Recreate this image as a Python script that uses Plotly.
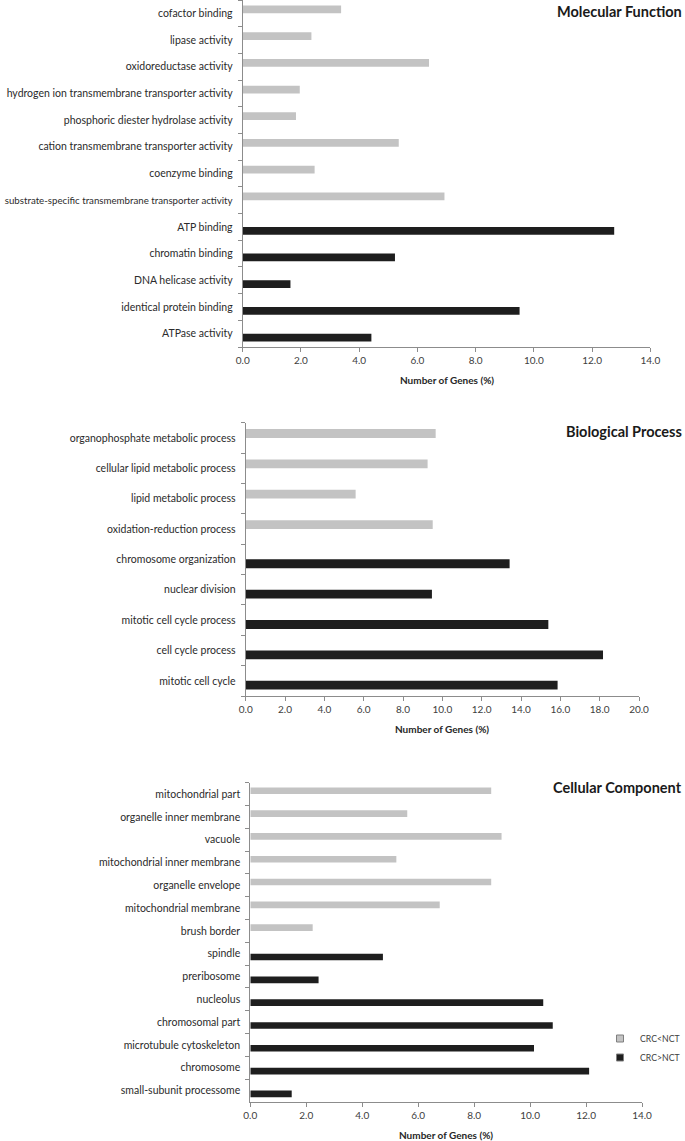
import plotly.graph_objects as go

# ---------------- data ----------------
mf_down_terms = ["cofactor binding", "lipase activity", "oxidoreductase activity",
                 "hydrogen ion transmembrane transporter activity",
                 "phosphoric diester hydrolase activity",
                 "cation transmembrane transporter activity", "coenzyme binding",
                 "substrate-specific transmembrane transporter activity"]
mf_down_vals = [3.38, 2.36, 6.40, 1.96, 1.83, 5.36, 2.47, 6.93]
mf_up_terms = ["ATP binding", "chromatin binding", "DNA helicase activity",
               "identical protein binding", "ATPase activity"]
mf_up_vals = [12.76, 5.23, 1.64, 9.51, 4.42]

bp_down_terms = ["organophosphate metabolic process", "cellular lipid metabolic process",
                 "lipid metabolic process", "oxidation-reduction process"]
bp_down_vals = [9.66, 9.25, 5.59, 9.51]
bp_up_terms = ["chromosome organization", "nuclear division", "mitotic cell cycle process",
               "cell cycle process", "mitotic cell cycle"]
bp_up_vals = [13.42, 9.47, 15.39, 18.17, 15.86]

cc_down_terms = ["mitochondrial part", "organelle inner membrane", "vacuole",
                 "mitochondrial inner membrane", "organelle envelope",
                 "mitochondrial membrane", "brush border"]
cc_down_vals = [8.61, 5.61, 8.98, 5.22, 8.61, 6.77, 2.23]
cc_up_terms = ["spindle", "preribosome", "nucleolus", "chromosomal part",
               "microtubule cytoskeleton", "chromosome", "small-subunit processome"]
cc_up_vals = [4.74, 2.44, 10.47, 10.81, 10.14, 12.11, 1.48]

panel_titles = ["Molecular Function", "Biological Process", "Cellular Component"]
x_maxes = [14, 20, 14]
series_names = ["CRC<NCT", "CRC>NCT"]
axis_title = "Number of Genes (%)"

# ---------------- style ----------------
W, H = 685, 1141
FONT = "Lato"
GRAY = "#c3c3c3"
BLACK = "#1e1e1e"
AXIS = "#8c8c8c"

# pixel boxes of the plot areas: (left, right, top, bottom)
boxes = [(242.7, 650.3, 0.0, 347.0),
         (245.7, 639.0, 422.7, 696.0),
         (250.3, 642.0, 782.7, 1102.0)]
title_y = [11, 432, 787]

panels = [(mf_down_terms, mf_down_vals, mf_up_terms, mf_up_vals),
          (bp_down_terms, bp_down_vals, bp_up_terms, bp_up_vals),
          (cc_down_terms, cc_down_vals, cc_up_terms, cc_up_vals)]


def fit_label(s):
    # the very long label is set a touch smaller so it stays inside the page
    if len(s) > 50:
        return f'<span style="font-size:9.7px">{s}</span>'
    return s


fig = go.Figure()
layout = {}
annotations = []

for i, ((dt, dv, ut, uv), (l, r, t, b), xmax, title, ty) in enumerate(
        zip(panels, boxes, x_maxes, panel_titles, title_y)):
    n = i + 1
    xa = "x" if n == 1 else f"x{n}"
    ya = "y" if n == 1 else f"y{n}"
    fig.add_trace(go.Bar(y=dt, x=dv, orientation="h", xaxis=xa, yaxis=ya,
                         offsetgroup="down", alignmentgroup=f"p{n}",
                         marker=dict(color=GRAY, line=dict(width=0)),
                         name=series_names[0], showlegend=False))
    fig.add_trace(go.Bar(y=ut, x=uv, orientation="h", xaxis=xa, yaxis=ya,
                         offsetgroup="up", alignmentgroup=f"p{n}",
                         marker=dict(color=BLACK, line=dict(width=0)),
                         name=series_names[1], showlegend=False))
    cats = dt + ut
    xkey = "xaxis" if n == 1 else f"xaxis{n}"
    ykey = "yaxis" if n == 1 else f"yaxis{n}"
    layout[xkey] = dict(domain=[l / W, r / W], anchor=ya, range=[0, xmax],
                        automargin=False,
                        dtick=2, tick0=0, tickformat=".1f", showgrid=False,
                        zeroline=False, showline=True, linecolor=AXIS, linewidth=1,
                        ticks="outside", ticklen=4, tickcolor=AXIS, tickwidth=1,
                        tickfont=dict(family=FONT, size=10, color="#404040"),
                        fixedrange=True)
    layout[ykey] = dict(domain=[1 - b / H, 1 - t / H], anchor=xa,
                        automargin=False,
                        categoryorder="array", categoryarray=cats,
                        tickmode="array", tickvals=cats,
                        ticktext=[fit_label(c) for c in cats],
                        autorange="reversed", showgrid=False, zeroline=False,
                        showline=True, linecolor=AXIS, linewidth=1,
                        ticks="outside", ticklen=4, tickcolor=AXIS, tickwidth=1,
                        tickson="boundaries", ticklabelstandoff=7,
                        tickfont=dict(family=FONT, size=10.5, color="#2b2b2b"),
                        fixedrange=True)
    # panel title (top right)
    annotations.append(dict(text=f"<b>{title}</b>", xref="paper", yref="paper",
                            x=684 / W, y=1 - ty / H,
                            xanchor="right", yanchor="middle", showarrow=False,
                            font=dict(family=FONT, size=14.5, color="#1a1a1a")))
    # x axis title
    annotations.append(dict(text=f"<b>{axis_title}</b>", xref="paper", yref="paper",
                            x=(l + r) / 2 / W, y=1 - (b + 33) / H,
                            xanchor="center", yanchor="middle", showarrow=False,
                            font=dict(family=FONT, size=10, color="#262626")))

# legend entries (placed in the Cellular Component panel)
for name, col in zip(series_names, [GRAY, BLACK]):
    fig.add_trace(go.Scatter(x=[None], y=[None], mode="markers", xaxis="x3", yaxis="y3",
                             name=name, showlegend=True,
                             marker=dict(symbol="square", size=7, color=col,
                                         line=dict(color="#7f7f7f", width=1))))

fig.update_layout(
    width=W, height=H, margin=dict(l=0, r=0, t=0, b=0, autoexpand=False),
    paper_bgcolor="white", plot_bgcolor="white",
    barmode="group", bargap=0.42, bargroupgap=0,
    showlegend=True,
    legend=dict(x=1, y=1 - 1024 / H, xanchor="right", yanchor="top",
                bgcolor="rgba(0,0,0,0)", borderwidth=0, itemwidth=30,
                indentation=-15,
                font=dict(family=FONT, size=8.7, color="#404040"),
                tracegroupgap=0),
    annotations=annotations,
    **layout,
)

fig.write_html("out.html", config={"displayModeBar": False},
               post_script="document.body.style.margin='0';"
                           "document.body.style.padding='0';")
